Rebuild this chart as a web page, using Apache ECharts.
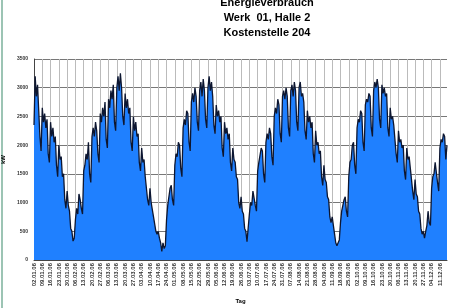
<!DOCTYPE html>
<html>
<head>
<meta charset="utf-8">
<script src="https://cdn.jsdelivr.net/npm/echarts@6/dist/echarts.min.js"></script>
<style>
    html, body {margin: 0; padding: 0; background: #fff;}
    #chart {width: 450px; height: 308px;}
</style>
</head>
<body>
<div id="chart"></div>
<script>
// Tageswerte, eine Zeile pro Woche (Mo..So)
var weekValues = [
    [2350, 3200, 2850, 3050, 2600, 2150, 1900],
    [2650, 2400, 2550, 2300, 2450, 1850, 1700],
    [2400, 2150, 2300, 2050, 2150, 1650, 1450],
    [2000, 1750, 1800, 1450, 1500, 1050, 900],
    [1200, 950, 850, 550, 500, 330, 380],
    [700, 900, 800, 1150, 1050, 900, 800],
    [1550, 1650, 1850, 1750, 2050, 1500, 1350],
    [2150, 2300, 2150, 2400, 2250, 1850, 1700],
    [2550, 2400, 2650, 2500, 2750, 2100, 1950],
    [2800, 2650, 2950, 2800, 3050, 2400, 2250],
    [3000, 3200, 2950, 3250, 3000, 2500, 2350],
    [2900, 2650, 2800, 2550, 2650, 2050, 1900],
    [2500, 2250, 2400, 2150, 2200, 1700, 1550],
    [1950, 1700, 1750, 1450, 1450, 1050, 950],
    [1250, 1000, 1000, 750, 750, 500, 450],
    [500, 380, 300, 150, 300, 200, 250],
    [700, 950, 950, 1250, 1300, 1050, 950],
    [1650, 1850, 1800, 2050, 2000, 1600, 1450],
    [2300, 2450, 2350, 2600, 2550, 2050, 1900],
    [2750, 2900, 2750, 3000, 2850, 2400, 2250],
    [2950, 3100, 2850, 3150, 2950, 2450, 2300],
    [3000, 3200, 2950, 3100, 2850, 2350, 2200],
    [2700, 2500, 2600, 2400, 2500, 1950, 1800],
    [2400, 2200, 2300, 2100, 2200, 1700, 1550],
    [1950, 1750, 1700, 1450, 1400, 1000, 900],
    [1100, 850, 800, 550, 500, 320, 300],
    [800, 1000, 950, 1200, 1200, 950, 850],
    [1550, 1700, 1700, 1950, 1900, 1500, 1350],
    [2050, 2200, 2100, 2300, 2200, 1800, 1650],
    [2500, 2650, 2550, 2800, 2700, 2200, 2050],
    [2850, 2950, 2800, 3000, 2850, 2300, 2150],
    [2950, 3050, 2850, 3100, 2950, 2400, 2250],
    [3000, 3100, 2850, 2900, 2750, 2250, 2100],
    [2600, 2400, 2500, 2300, 2400, 1850, 1700],
    [2250, 2000, 2050, 1850, 1900, 1450, 1300],
    [1650, 1400, 1350, 1100, 1050, 750, 650],
    [750, 600, 450, 300, 250, 300, 350],
    [650, 850, 850, 1050, 1100, 850, 750],
    [1450, 1700, 1750, 2000, 2050, 1650, 1500],
    [2300, 2450, 2400, 2600, 2550, 2050, 1900],
    [2700, 2800, 2750, 2900, 2850, 2300, 2150],
    [2950, 3100, 3000, 3150, 3000, 2450, 2300],
    [3050, 2900, 3000, 2850, 2900, 2300, 2150],
    [2650, 2450, 2500, 2350, 2350, 1850, 1700],
    [2250, 2050, 2100, 1950, 2000, 1550, 1400],
    [1950, 1750, 1800, 1600, 1600, 1200, 1050],
    [1400, 1150, 1100, 850, 800, 550, 450],
    [500, 380, 500, 600, 850, 650, 600],
    [1250, 1450, 1500, 1700, 1700, 1350, 1200],
    [1950, 2100, 2050, 2200, 2150, 1750, 2000]
];
var titleLines = ['Energieverbrauch', 'Werk  01, Halle 2', 'Kostenstelle 204'];
var yTicks = [0, 500, 1000, 1500, 2000, 2500, 3000, 3500];
var startDate = new Date(2006, 0, 2);

var values = [];
weekValues.forEach(function (w) {
    values = values.concat(w);
});

var pad = function (n) {
    return ('0' + n).slice(-2);
};
var days = [];
for (var i = 0; i < values.length; i++) {
    var d = new Date(startDate.getTime() + i * 86400000);
    days.push(pad(d.getDate()) + '.' + pad(d.getMonth() + 1) + '.' + pad(d.getFullYear() % 100));
}

var chart = echarts.init(document.getElementById('chart'), null, {renderer: 'canvas'});
chart.setOption({
    animation: false,
    backgroundColor: '#fff',
    title: {
        text: titleLines.join('\n'),
        left: 262,
        top: -10,
        textAlign: 'center',
        textStyle: {fontFamily: 'Liberation Sans', fontSize: 11, fontWeight: 'bold', color: '#000', lineHeight: 15}
    },
    graphic: [{
        type: 'rect',
        shape: {x: 1, y: 0, width: 2, height: 308},
        style: {fill: '#9cc4b4'}
    }],
    grid: {left: 34, right: 3, top: 59, bottom: 48, containLabel: false, outerBoundsMode: 'none'},
    xAxis: {
        type: 'category',
        data: days,
        boundaryGap: false,
        name: 'Tag',
        nameLocation: 'middle',
        nameGap: 38,
        nameTextStyle: {fontFamily: 'Liberation Sans', fontSize: 6, fontWeight: 'bold', color: '#000'},
        axisLine: {lineStyle: {color: '#444'}},
        axisTick: {show: false},
        axisLabel: {
            interval: 6,
            rotate: 90,
            fontFamily: 'Liberation Sans',
            fontSize: 6,
            fontWeight: 'bold',
            color: '#333',
            margin: 3
        },
        splitLine: {show: true, interval: 6, lineStyle: {color: '#bbb', width: 1}}
    },
    yAxis: {
        type: 'value',
        min: yTicks[0],
        max: yTicks[yTicks.length - 1],
        interval: 500,
        name: 'kW',
        nameLocation: 'middle',
        nameGap: 23,
        nameRotate: 90,
        nameTextStyle: {fontFamily: 'Liberation Sans', fontSize: 6, fontWeight: 'bold', color: '#000'},
        axisLine: {show: true, lineStyle: {color: '#444'}},
        axisTick: {show: false},
        axisLabel: {
            fontFamily: 'Liberation Sans', fontSize: 5, fontWeight: 'bold', color: '#333', margin: 6,
            formatter: function (v) { return String(v); }
        },
        splitLine: {lineStyle: {color: '#777', width: 1}}
    },
    series: [{
        type: 'line',
        data: values,
        showSymbol: false,
        symbol: 'none',
        lineStyle: {color: '#0d1630', width: 1.3},
        areaStyle: {color: '#1f80ff', opacity: 1}
    }]
});
</script>
</body>
</html>
